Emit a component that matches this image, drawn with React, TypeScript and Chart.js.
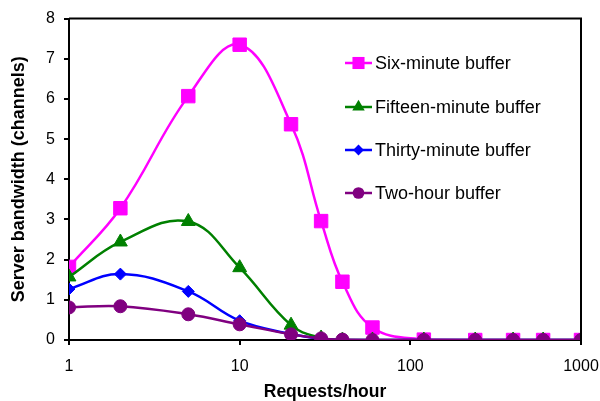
import React, { useEffect, useRef } from "react";
import { Chart, registerables } from "chart.js";

Chart.register(...registerables);

const requestsPerHour = [1, 2, 5, 10, 20, 30, 40, 60, 120, 240, 400, 600, 1000];
const xTickValues = [1, 10, 100, 1000];
const sixMinute = [1.82, 3.28, 6.07, 7.35, 5.37, 2.96, 1.45, 0.31, 0.01, 0, 0, 0, 0];
const fifteenMinute = [1.57, 2.44, 2.95, 1.8, 0.37, 0.05, 0, 0, 0, 0, 0, 0, 0];
const thirtyMinute = [1.27, 1.64, 1.21, 0.48, 0.15, 0.03, 0, 0, 0, 0, 0, 0, 0];
const twoHour = [0.81, 0.84, 0.64, 0.39, 0.14, 0.04, 0.01, 0, 0, 0, 0, 0, 0];
const seriesNames = ["Six-minute buffer", "Fifteen-minute buffer", "Thirty-minute buffer", "Two-hour buffer"];

const FONT = "'Liberation Sans', Arial, sans-serif";

export default function App() {
  const ref = useRef<HTMLCanvasElement>(null);
  useEffect(() => {
    document.body.style.margin = "0";
    const mk = (vals: number[]) => requestsPerHour.map((x, i) => ({ x, y: vals[i] }));
    function drawPt(ctx: CanvasRenderingContext2D, style: string, r: number, x: number, y: number) {
      ctx.beginPath();
      if (style === "rect") {
        const s = Math.SQRT1_2 * r;
        ctx.rect(x - s, y - s, 2 * s, 2 * s);
      } else if (style === "triangle") {
        ctx.moveTo(x, y - r);
        ctx.lineTo(x + r * Math.sin(Math.PI * 2 / 3), y - r * Math.cos(Math.PI * 2 / 3));
        ctx.lineTo(x - r * Math.sin(Math.PI * 2 / 3), y - r * Math.cos(Math.PI * 2 / 3));
        ctx.closePath();
      } else if (style === "rectRot") {
        ctx.moveTo(x, y - r);
        ctx.lineTo(x + r, y);
        ctx.lineTo(x, y + r);
        ctx.lineTo(x - r, y);
        ctx.closePath();
      } else {
        ctx.arc(x, y, r, 0, Math.PI * 2);
      }
      ctx.fill();
    }
    const legendPlugin = {
      id: "customLegend",
      afterDraw(chart: any) {
        const ctx = chart.ctx;
        const area = chart.chartArea;
        ctx.save();
        ctx.strokeStyle = "#000";
        ctx.lineWidth = 2;
        ctx.beginPath();
        ctx.moveTo(area.left, area.top);
        ctx.lineTo(area.right, area.top);
        ctx.lineTo(area.right, area.bottom);
        ctx.stroke();
        const rows = [63, 107, 150, 193];
        [0, 1, 2, 3].forEach((di, r) => {
          const ds = chart.data.datasets[di];
          const y = rows[r];
          ctx.strokeStyle = ds.borderColor;
          ctx.lineWidth = 2.5;
          ctx.beginPath();
          ctx.moveTo(345, y);
          ctx.lineTo(372, y);
          ctx.stroke();
          ctx.fillStyle = ds.backgroundColor;
          drawPt(ctx, ds.pointStyle, ds.pointRadius * 0.9, 358.5, y);
          ctx.fillStyle = "#000";
          ctx.font = `18px ${FONT}`;
          ctx.textBaseline = "middle";
          ctx.textAlign = "left";
          ctx.fillText(seriesNames[di], 375, y + 1);
        });
        ctx.restore();
      },
    };
    const common = { borderWidth: 2.5, tension: 0.4, pointBorderWidth: 1, fill: false };
    const chart = new Chart(ref.current!, {
      type: "line",
      data: {
        datasets: [
          { ...common, label: seriesNames[0], data: mk(sixMinute), borderColor: "#FF00FF", backgroundColor: "#FF00FF", pointStyle: "rect", pointRadius: 9.5, order: 3 },
          { ...common, label: seriesNames[1], data: mk(fifteenMinute), borderColor: "#008000", backgroundColor: "#008000", pointStyle: "triangle", pointRadius: 8, order: 2 },
          { ...common, label: seriesNames[2], data: mk(thirtyMinute), borderColor: "#0000FF", backgroundColor: "#0000FF", pointStyle: "rectRot", pointRadius: 6, order: 1 },
          { ...common, label: seriesNames[3], data: mk(twoHour), borderColor: "#800080", backgroundColor: "#800080", pointStyle: "circle", pointRadius: 6.5, order: 0 },
        ] as any,
      },
      options: {
        animation: false,
        responsive: false,
        devicePixelRatio: 1,
        layout: { padding: { left: 0, top: 17, right: 19, bottom: 0 } },
        plugins: { legend: { display: false }, tooltip: { enabled: false } },
        scales: {
          x: {
            type: "logarithmic",
            min: 1,
            max: 1000,
            afterBuildTicks: (axis: any) => {
              axis.ticks = xTickValues.map((v) => ({ value: v, major: true }));
            },
            afterFit: (axis: any) => {
              axis.height = 61;
              axis.paddingLeft = 0;
              axis.paddingRight = 0;
            },
            ticks: {
              color: "#000",
              font: { family: FONT, size: 16 },
              padding: 12,
              maxRotation: 0,
              autoSkip: false,
              callback: (v: any) => String(v),
            },
            grid: { display: true, drawOnChartArea: false, drawTicks: true, tickLength: 5, color: "#000", lineWidth: 2 },
            border: { display: true, color: "#000", width: 2 },
            title: { display: true, text: "Requests/hour", color: "#000", font: { family: FONT, size: 17.5, weight: "bold" }, padding: { top: 4, bottom: -2 } },
          },
          y: {
            min: 0,
            max: 8,
            afterFit: (axis: any) => {
              axis.width = 69;
            },
            ticks: { stepSize: 1, color: "#000", font: { family: FONT, size: 16 }, padding: 9 },
            grid: { display: true, drawOnChartArea: false, drawTicks: true, tickLength: 5, color: "#000", lineWidth: 2 },
            border: { display: true, color: "#000", width: 2 },
            title: { display: true, text: "Server bandwidth (channels)", color: "#000", font: { family: FONT, size: 18, weight: "bold" }, padding: { top: 8, bottom: 4 } },
          },
        },
      } as any,
      plugins: [legendPlugin],
    });
    return () => chart.destroy();
  }, []);
  return <canvas ref={ref} width={600} height={401} style={{ display: "block" }} />;
}
